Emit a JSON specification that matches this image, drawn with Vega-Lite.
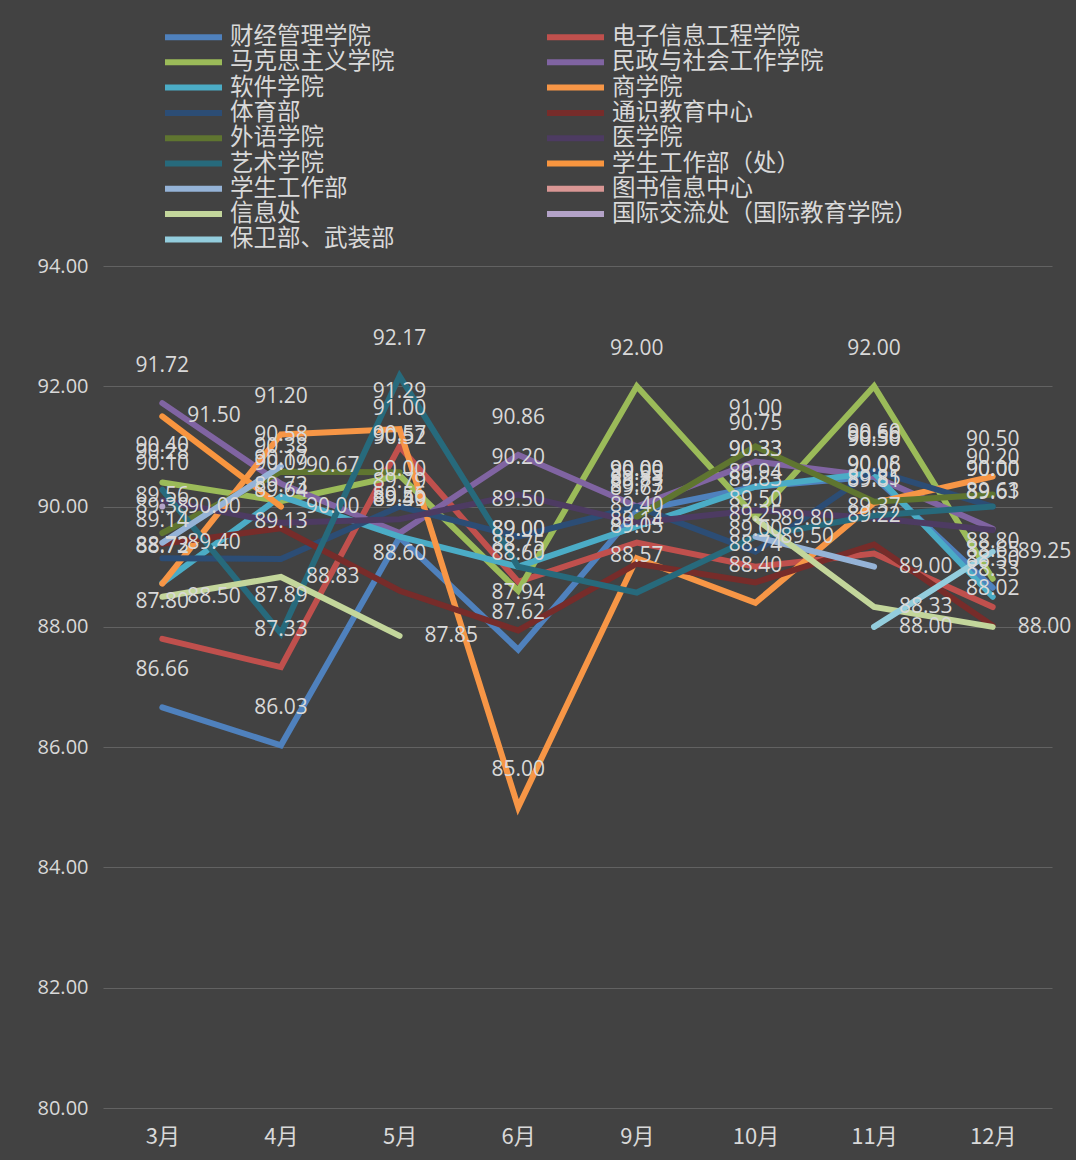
{
  "$schema": "https://vega.github.io/schema/vega-lite/v6.json",
  "autosize": "none",
  "width": 949,
  "height": 842,
  "padding": {"left": 103, "top": 266, "right": 24, "bottom": 52},
  "background": "#424242",
  "config": {"view": {"stroke": null}, "font": "Open Sans"},
  "data": {"values": [
    {"dept": "财经管理学院", "month": "3月", "score": 86.66},
    {"dept": "财经管理学院", "month": "4月", "score": 86.03},
    {"dept": "财经管理学院", "month": "5月", "score": 89.49},
    {"dept": "财经管理学院", "month": "6月", "score": 87.62},
    {"dept": "财经管理学院", "month": "9月", "score": 89.93},
    {"dept": "财经管理学院", "month": "10月", "score": 90.33},
    {"dept": "财经管理学院", "month": "11月", "score": 90.5},
    {"dept": "财经管理学院", "month": "12月", "score": 88.65},
    {"dept": "电子信息工程学院", "month": "3月", "score": 87.8},
    {"dept": "电子信息工程学院", "month": "4月", "score": 87.33},
    {"dept": "电子信息工程学院", "month": "5月", "score": 91.0},
    {"dept": "电子信息工程学院", "month": "6月", "score": 88.75},
    {"dept": "电子信息工程学院", "month": "9月", "score": 89.4},
    {"dept": "电子信息工程学院", "month": "10月", "score": 89.0},
    {"dept": "电子信息工程学院", "month": "11月", "score": 89.22},
    {"dept": "电子信息工程学院", "month": "12月", "score": 88.33},
    {"dept": "马克思主义学院", "month": "3月", "score": 90.4},
    {"dept": "马克思主义学院", "month": "4月", "score": 90.09},
    {"dept": "马克思主义学院", "month": "5月", "score": 90.52},
    {"dept": "马克思主义学院", "month": "6月", "score": 88.6},
    {"dept": "马克思主义学院", "month": "9月", "score": 92.0},
    {"dept": "马克思主义学院", "month": "10月", "score": 89.83},
    {"dept": "马克思主义学院", "month": "11月", "score": 92.0},
    {"dept": "马克思主义学院", "month": "12月", "score": 88.8},
    {"dept": "民政与社会工作学院", "month": "3月", "score": 91.72},
    {"dept": "民政与社会工作学院", "month": "4月", "score": 90.38},
    {"dept": "民政与社会工作学院", "month": "5月", "score": 89.56},
    {"dept": "民政与社会工作学院", "month": "6月", "score": 90.86},
    {"dept": "民政与社会工作学院", "month": "9月", "score": 90.0},
    {"dept": "民政与社会工作学院", "month": "10月", "score": 90.75},
    {"dept": "民政与社会工作学院", "month": "11月", "score": 90.5},
    {"dept": "民政与社会工作学院", "month": "12月", "score": 89.63},
    {"dept": "软件学院", "month": "3月", "score": 88.73},
    {"dept": "软件学院", "month": "4月", "score": 90.17},
    {"dept": "软件学院", "month": "5月", "score": 89.5},
    {"dept": "软件学院", "month": "6月", "score": 89.0},
    {"dept": "软件学院", "month": "9月", "score": 89.67},
    {"dept": "软件学院", "month": "10月", "score": 90.33},
    {"dept": "软件学院", "month": "11月", "score": 90.56},
    {"dept": "软件学院", "month": "12月", "score": 88.5},
    {"dept": "商学院", "month": "3月", "score": 88.72},
    {"dept": "商学院", "month": "4月", "score": 91.2},
    {"dept": "商学院", "month": "5月", "score": 91.29},
    {"dept": "商学院", "month": "6月", "score": 85.0},
    {"dept": "商学院", "month": "9月", "score": 89.14},
    {"dept": "商学院", "month": "10月", "score": 88.4},
    {"dept": "商学院", "month": "11月", "score": 90.06},
    {"dept": "商学院", "month": "12月", "score": 90.5},
    {"dept": "体育部", "month": "3月", "score": 89.14},
    {"dept": "体育部", "month": "4月", "score": 89.13},
    {"dept": "体育部", "month": "5月", "score": 90.0},
    {"dept": "体育部", "month": "6月", "score": 89.5},
    {"dept": "体育部", "month": "9月", "score": 90.0},
    {"dept": "体育部", "month": "10月", "score": 89.25},
    {"dept": "体育部", "month": "11月", "score": 90.6},
    {"dept": "体育部", "month": "12月", "score": 90.0},
    {"dept": "通识教育中心", "month": "3月", "score": 89.38},
    {"dept": "通识教育中心", "month": "4月", "score": 89.64},
    {"dept": "通识教育中心", "month": "5月", "score": 88.6},
    {"dept": "通识教育中心", "month": "6月", "score": 87.94},
    {"dept": "通识教育中心", "month": "9月", "score": 89.05},
    {"dept": "通识教育中心", "month": "10月", "score": 88.74},
    {"dept": "通识教育中心", "month": "11月", "score": 89.37},
    {"dept": "通识教育中心", "month": "12月", "score": 88.02},
    {"dept": "外语学院", "month": "3月", "score": 89.56},
    {"dept": "外语学院", "month": "4月", "score": 90.58},
    {"dept": "外语学院", "month": "5月", "score": 90.57},
    {"dept": "外语学院", "month": "6月", "score": null},
    {"dept": "外语学院", "month": "9月", "score": 89.83},
    {"dept": "外语学院", "month": "10月", "score": 91.0},
    {"dept": "外语学院", "month": "11月", "score": 90.08},
    {"dept": "外语学院", "month": "12月", "score": 90.2},
    {"dept": "医学院", "month": "3月", "score": 90.1},
    {"dept": "医学院", "month": "4月", "score": 89.73},
    {"dept": "医学院", "month": "5月", "score": 89.79},
    {"dept": "医学院", "month": "6月", "score": 90.2},
    {"dept": "医学院", "month": "9月", "score": 89.73},
    {"dept": "医学院", "month": "10月", "score": 89.94},
    {"dept": "医学院", "month": "11月", "score": 89.81},
    {"dept": "医学院", "month": "12月", "score": 89.61},
    {"dept": "艺术学院", "month": "3月", "score": 90.28},
    {"dept": "艺术学院", "month": "4月", "score": 87.89},
    {"dept": "艺术学院", "month": "5月", "score": 92.17},
    {"dept": "艺术学院", "month": "6月", "score": 89.0},
    {"dept": "艺术学院", "month": "9月", "score": 88.57},
    {"dept": "艺术学院", "month": "10月", "score": 89.5},
    {"dept": "艺术学院", "month": "11月", "score": 89.85},
    {"dept": "艺术学院", "month": "12月", "score": 90.0},
    {"dept": "学生工作部（处）", "month": "3月", "score": 91.5},
    {"dept": "学生工作部（处）", "month": "4月", "score": 90.0},
    {"dept": "学生工作部", "month": "3月", "score": 89.4},
    {"dept": "学生工作部", "month": "4月", "score": 90.67},
    {"dept": "学生工作部", "month": "5月", "score": null},
    {"dept": "学生工作部", "month": "6月", "score": null},
    {"dept": "学生工作部", "month": "9月", "score": null},
    {"dept": "学生工作部", "month": "10月", "score": 89.5},
    {"dept": "学生工作部", "month": "11月", "score": 89.0},
    {"dept": "信息处", "month": "3月", "score": 88.5},
    {"dept": "信息处", "month": "4月", "score": 88.83},
    {"dept": "信息处", "month": "5月", "score": 87.85},
    {"dept": "信息处", "month": "6月", "score": null},
    {"dept": "信息处", "month": "9月", "score": null},
    {"dept": "信息处", "month": "10月", "score": 89.8},
    {"dept": "信息处", "month": "11月", "score": 88.33},
    {"dept": "信息处", "month": "12月", "score": 88.0},
    {"dept": "国际交流处（国际教育学院）", "month": "3月", "score": 90.0},
    {"dept": "保卫部、武装部", "month": "11月", "score": 88.0},
    {"dept": "保卫部、武装部", "month": "12月", "score": 89.25}
  ]},
  "encoding": {
    "x": {
      "field": "month", "type": "ordinal",
      "sort": ["3月", "4月", "5月", "6月", "9月", "10月", "11月", "12月"],
      "scale": {"type": "point", "padding": 0.5},
      "axis": {"labelAngle": 0, "labelFontSize": 22, "labelFont": "Noto Sans CJK SC", "labelColor": "#D9D9D9", "domain": false, "ticks": false, "title": null, "labelPadding": 18, "grid": false}
    },
    "y": {
      "field": "score", "type": "quantitative",
      "scale": {"domain": [80, 94], "nice": false, "zero": false},
      "axis": {"values": [80, 82, 84, 86, 88, 90, 92, 94], "format": ".2f", "labelFontSize": 20, "labelColor": "#D9D9D9", "grid": true, "gridColor": "#626262", "gridWidth": 1.2, "domain": false, "ticks": false, "title": null, "labelPadding": 15}
    }
  },
  "layer": [
    {
      "mark": {"type": "line", "strokeWidth": 6, "strokeCap": "round", "strokeJoin": "miter", "invalid": "break-paths-show-domains"},
      "encoding": {
        "color": {
          "field": "dept", "type": "nominal",
          "scale": {
            "domain": ["财经管理学院", "马克思主义学院", "软件学院", "体育部", "外语学院", "艺术学院", "学生工作部", "信息处", "保卫部、武装部", "电子信息工程学院", "民政与社会工作学院", "商学院", "通识教育中心", "医学院", "学生工作部（处）", "图书信息中心", "国际交流处（国际教育学院）"],
            "range": ["#4F81BD", "#9BBB59", "#4BACC6", "#2C4D75", "#5F7530", "#276A7C", "#95B3D7", "#C3D69B", "#93CDDD", "#C0504D", "#8064A2", "#F79646", "#772C2A", "#4D3B62", "#F8953F", "#D99694", "#B3A2C7"]
          },
          "legend": {
            "orient": "none", "legendX": 59, "legendY": -240, "columns": 2, "title": null,
            "symbolType": "stroke", "symbolSize": 3249, "symbolStrokeWidth": 6,
            "labelFontSize": 23.5, "labelFont": "Noto Sans CJK SC", "labelColor": "#D9D9D9",
            "labelOffset": 5, "rowPadding": 1.3, "columnPadding": 8, "gridAlign": "all", "labelLimit": 400, "clipHeight": 22
          }
        }
      }
    },
    {
      "transform": [{"filter": "datum.score != null && indexof(['财经管理学院','电子信息工程学院','马克思主义学院','民政与社会工作学院','软件学院','商学院','体育部','通识教育中心','外语学院','医学院','艺术学院'], datum.dept) >= 0"}],
      "mark": {"type": "text", "dy": -37, "fontSize": 21, "color": "#D9D9D9", "baseline": "middle", "align": "center"},
      "encoding": {"text": {"field": "score", "type": "quantitative", "format": ".2f"}}
    },
    {
      "transform": [{"filter": "datum.score != null && indexof(['学生工作部（处）','学生工作部','信息处','国际交流处（国际教育学院）','保卫部、武装部'], datum.dept) >= 0"}],
      "mark": {"type": "text", "dx": 25, "fontSize": 21, "color": "#D9D9D9", "baseline": "middle", "align": "left"},
      "encoding": {"text": {"field": "score", "type": "quantitative", "format": ".2f"}}
    }
  ]
}
